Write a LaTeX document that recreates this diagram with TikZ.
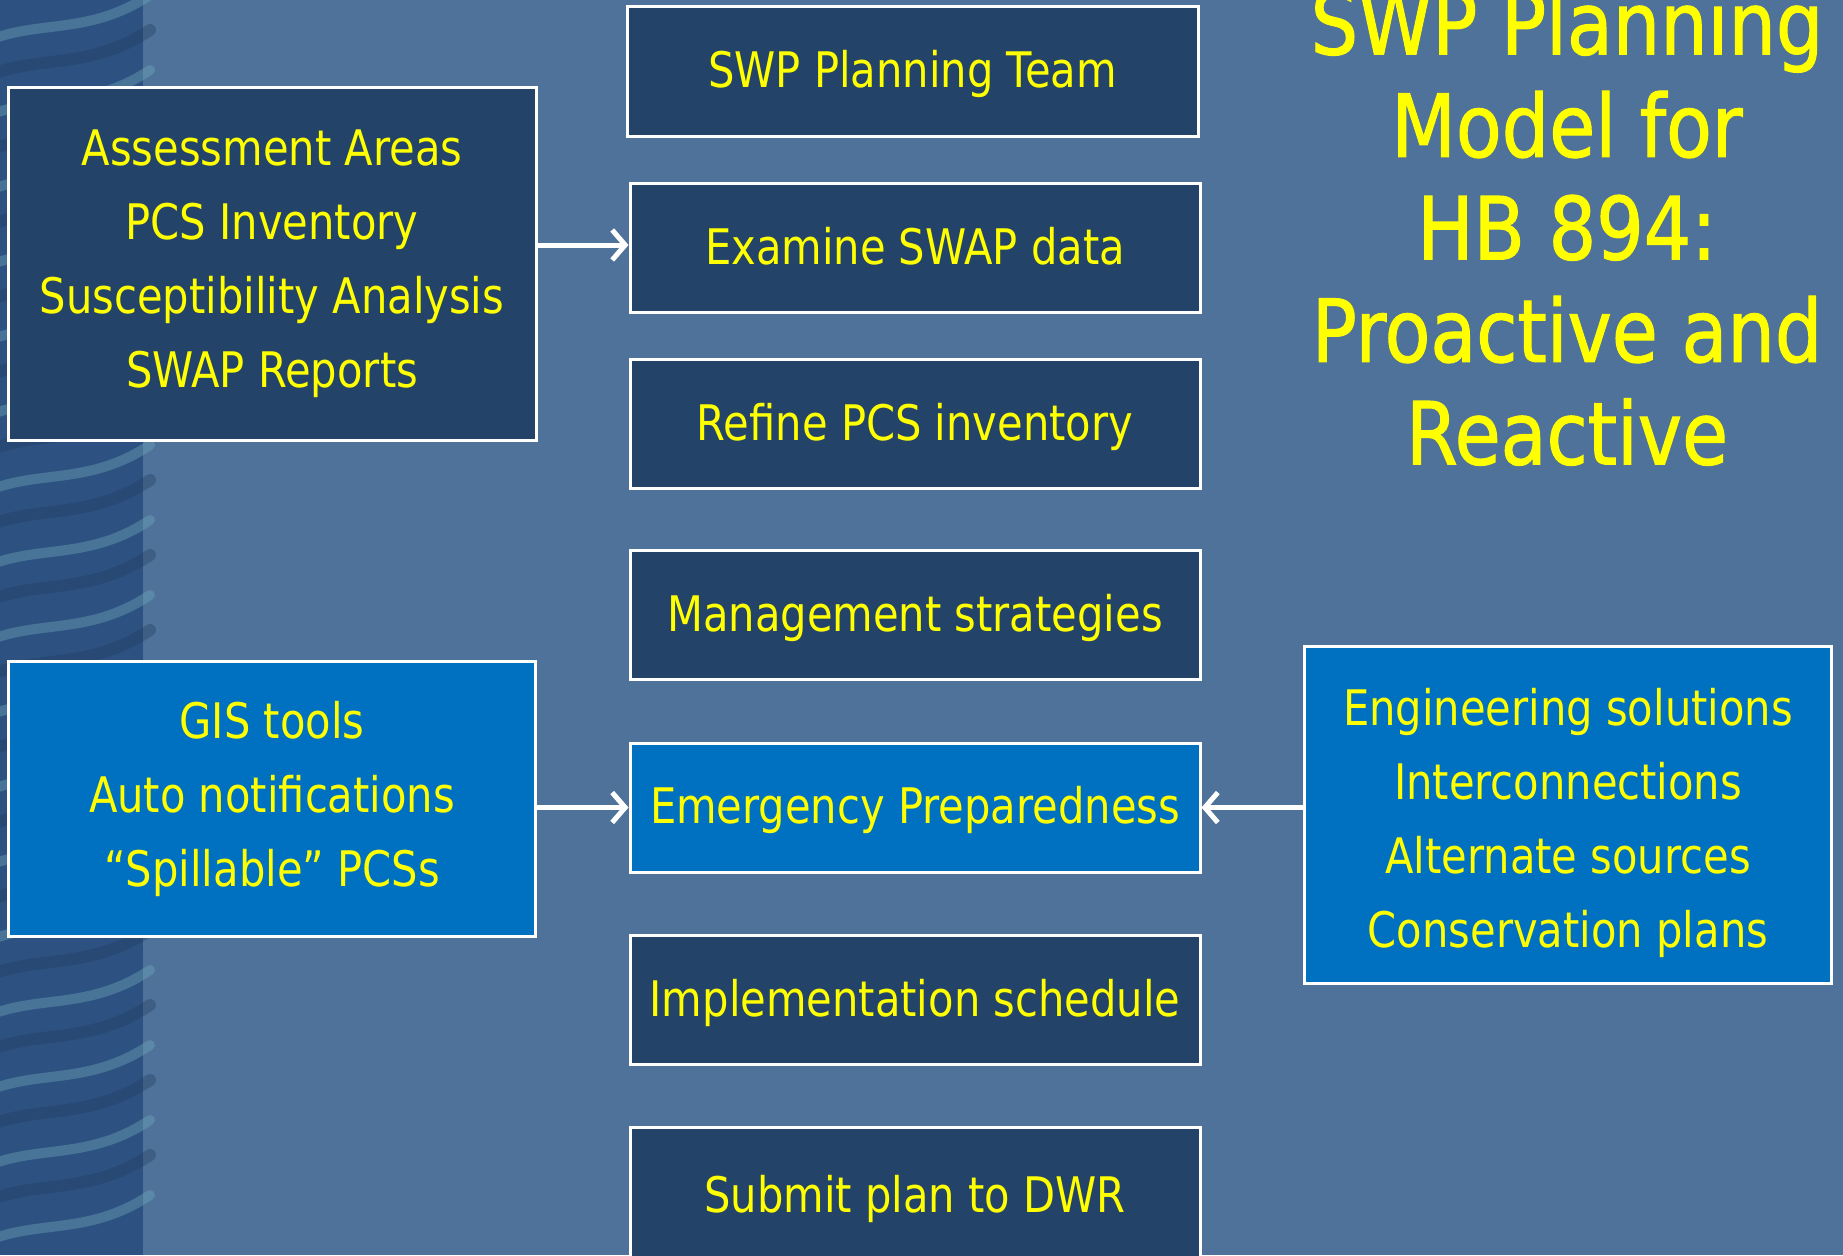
\documentclass[tikz,border=0pt]{standalone}
\usepackage{fontspec}
\setmainfont{DejaVu Sans}[FakeStretch=0.85]
\newfontfamily\titlefont{DejaVu Sans}[FakeStretch=0.86, FakeBold=1.2]
\usetikzlibrary{arrows.meta}
\definecolor{bgblue}{HTML}{4F729A}
\definecolor{stripblue}{HTML}{2D5282}
\definecolor{ripple}{HTML}{6FA9B8}
\definecolor{darkbox}{HTML}{234468}
\definecolor{brightbox}{HTML}{0070C0}
\definecolor{ttl}{HTML}{FFFF00}
\tikzset{
  boxbase/.style={draw=white, line width=3pt, text=ttl, inner sep=0pt,
    font=\fontsize{49}{74}\selectfont},
  darkstep/.style={boxbase, fill=darkbox, minimum width=570, minimum height=129,
    text height=39pt, text depth=7pt},
  brightstep/.style={boxbase, fill=brightbox, minimum width=570, minimum height=129,
    text height=39pt, text depth=7pt},
  sidedark/.style={boxbase, align=center, fill=darkbox, minimum width=528},
  sidebright/.style={boxbase, align=center, fill=brightbox, minimum width=527},
  arr/.style={draw=white, line width=5pt, -{Straight Barb[length=13pt, width=30pt, line width=5pt]}},
}
\begin{document}
\begin{tikzpicture}[x=1pt, y=-1pt]
\useasboundingbox (0,0) rectangle (1843,1255);
\clip (0,0) rectangle (1843,1255);
% background
\fill[bgblue] (0,0) rectangle (1843,1255);
\fill[stripblue] (0,0) rectangle (143,1255);
\foreach \yy in {20,95,170,245,320,395,470,545,620,695,770,845,920,995,1070,1145,1220} {
  \draw[ripple, opacity=0.4, line width=10pt, line cap=round]
    (-10,\yy+20) .. controls (40,\yy) and (90,\yy+15) .. (150,\yy-25);
}
\foreach \yy in {55,130,205,280,355,430,505,580,655,730,805,880,955,1030,1105,1180} {
  \draw[stripblue!70!black, opacity=0.35, line width=12pt, line cap=round]
    (-10,\yy+20) .. controls (40,\yy) and (90,\yy+15) .. (150,\yy-25);
}
% middle column
\node[darkstep, minimum width=571] (team) at (912.5,71.5) {SWP Planning Team};
\node[darkstep] (examine) at (915,248) {Examine SWAP data};
\node[darkstep] (refine) at (915,424) {Refine PCS inventory};
\node[darkstep] (manage) at (915,615) {Management strategies};
\node[brightstep] (emerg) at (915,807.5) {Emergency Preparedness};
\node[darkstep] (impl) at (915,1000) {Implementation schedule};
\node[darkstep, minimum height=138] (submit) at (915,1196) {Submit plan to DWR};
% side boxes
\node[sidedark, minimum height=353] (assess) at (272,263.5)
  {Assessment Areas\\PCS Inventory\\Susceptibility Analysis\\SWAP Reports};
\node[sidebright, minimum height=275] (gis) at (272,798.5)
  {GIS tools\\Auto notifications\\“Spillable” PCSs};
\node[sidebright, minimum height=337] (eng) at (1568,814.5)
  {\raisebox{-7pt}[\height][\depth]{\begin{tabular}{@{}c@{}}Engineering solutions\\Interconnections\\Alternate sources\\Conservation plans\end{tabular}}};
% title
\node[text=ttl, align=center, inner sep=0pt, font=\titlefont\fontsize{87}{102.5}\selectfont] (title) at (1567,227)
  {SWP Planning\\Model for\\HB 894:\\Proactive and\\Reactive};
% arrows
\draw[arr] ([yshift=3pt]assess.east |- examine) -- ([yshift=3pt]examine.west);
\draw[arr] (gis.east |- emerg) -- (emerg.west);
\draw[arr] (eng.west |- emerg) -- (emerg.east);
\end{tikzpicture}
\end{document}
